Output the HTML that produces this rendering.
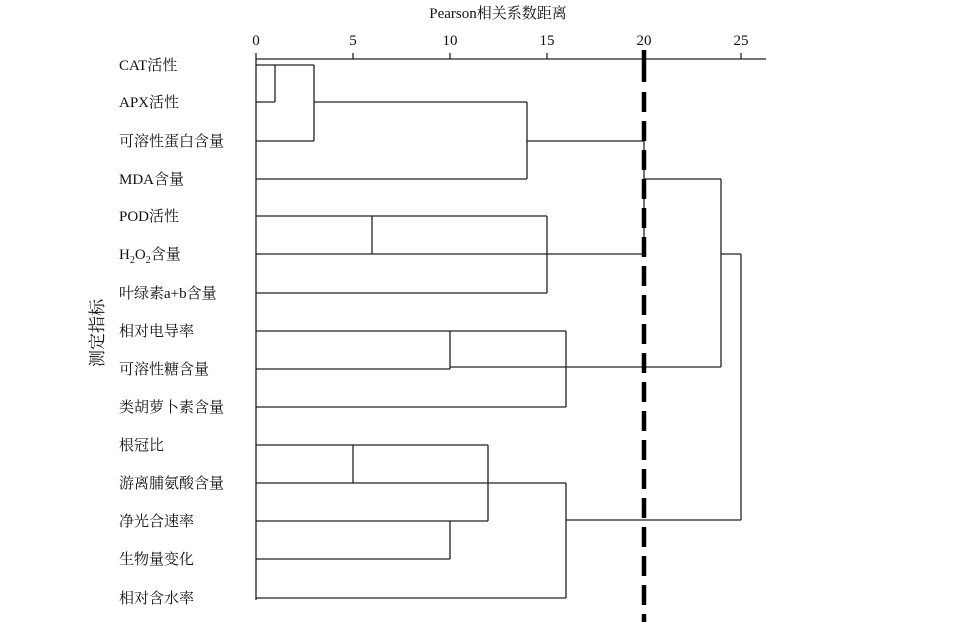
<!DOCTYPE html>
<html><head><meta charset="utf-8"><style>
html,body{margin:0;padding:0;background:#fff;}
svg{display:block}
text{font-family:"Liberation Serif","Noto Serif CJK SC",serif;fill:#111;}
</style></head><body>
<svg width="956" height="638" viewBox="0 0 956 638" xmlns="http://www.w3.org/2000/svg">
<text x="498" y="18" font-size="15" text-anchor="middle">Pearson相关系数距离</text>
<g font-size="15" text-anchor="middle">
<text x="256" y="45">0</text><text x="353" y="45">5</text><text x="450" y="45">10</text>
<text x="547" y="45">15</text><text x="644" y="45">20</text><text x="741" y="45">25</text>
</g>
<g stroke="#222" stroke-width="1.3" fill="none">
<path d="M256 59H766M256 53V59M353 53V59M450 53V59M547 53V59M741 53V59"/>
<path d="M256 59V600"/>
<path d="M256 65H314M275 65V102M256 102H275M314 65V141M256 141H314M314 102H527M527 102V179M256 179H527M527 141H644M644 179H721M721 179V367M644 367H721"/>
<path d="M644 141V254"/>
<path d="M256 216H547M372 216V254M256 254H372M372 254H547M547 216V293M256 293H547M547 254H644"/>
<path d="M256 331H566M450 331V369M256 369H450M450 367H566M566 331V407M256 407H566M566 367H644"/>
<path d="M721 254H741M741 254V520"/>
<path d="M256 445H488M353 445V483M256 483H353M353 483H488M488 445V521M256 521H488M450 521V559M256 559H450M488 483H566M566 483V598M256 598H566M566 520H741"/>
</g>
<path d="M644 50V82" stroke="#000" stroke-width="4.5"/>
<path d="M644 92V622" stroke="#000" stroke-width="4.5" stroke-dasharray="20,9"/>
<g font-size="15">
<text x="119" y="70">CAT活性</text>
<text x="119" y="107">APX活性</text>
<text x="119" y="146">可溶性蛋白含量</text>
<text x="119" y="184">MDA含量</text>
<text x="119" y="221">POD活性</text>
<text x="119" y="259">H<tspan font-size="10" dy="4">2</tspan><tspan dy="-4">O</tspan><tspan font-size="10" dy="4">2</tspan><tspan dy="-4">含量</tspan></text>
<text x="119" y="298">叶绿素a+b含量</text>
<text x="119" y="336">相对电导率</text>
<text x="119" y="374">可溶性糖含量</text>
<text x="119" y="412">类胡萝卜素含量</text>
<text x="119" y="450">根冠比</text>
<text x="119" y="488">游离脯氨酸含量</text>
<text x="119" y="526">净光合速率</text>
<text x="119" y="564">生物量变化</text>
<text x="119" y="603">相对含水率</text>
</g>
<text x="0" y="0" font-size="17" transform="translate(103,333) rotate(-90)" text-anchor="middle">测定指标</text>
</svg>
</body></html>
